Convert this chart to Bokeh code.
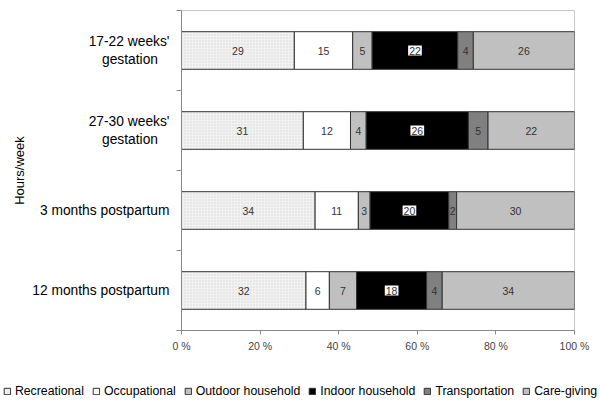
from bokeh.plotting import figure
from bokeh.models import FixedTicker, Legend
from bokeh.layouts import column, row
from bokeh.core.properties import value
from bokeh.embed import file_html
from bokeh.resources import INLINE

NB = "\u00a0"
categories = ["17-22 weeks'\ngestation" + NB * 3, "27-30 weeks'\ngestation" + NB * 3,
              "3 months postpartum", "12 months postpartum"]
series = ["Recreational", "Occupational", "Outdoor household",
          "Indoor household", "Transportation", "Care-giving"]
recreational = [29, 31, 34, 32]
occupational = [15, 12, 11, 6]
outdoor = [5, 4, 3, 7]
indoor = [22, 26, 20, 18]
transport = [4, 5, 2, 4]
caregiving = [26, 22, 30, 34]
x_ticks = [0, 20, 40, 60, 80, 100]
x_labels = ["0 %", "20 %", "40 %", "60 %", "80 %", "100 %"]

values = [recreational, occupational, outdoor, indoor, transport, caregiving]
fills = ["#f2f2f2", "#ffffff", "#c0c0c0", "#000000", "#808080", "#c0c0c0"]

FONT = "Liberation Sans"
n = len(categories)
ypos = [n - i - 0.5 for i in range(n)]
totals = [sum(v[i] for v in values) for i in range(n)]


def style_for(name, fc):
    kw = dict(fill_color=fc, line_color="#333333", line_width=1)
    if name == "Recreational":
        kw.update(hatch_pattern="dot", hatch_color="#d6d6d6", hatch_scale=3, hatch_weight=1)
    return kw


p = figure(width=600, height=370, output_backend="svg", toolbar_location=None,
           title_location=None, x_range=(0, 100), y_range=(0, n),
           min_border_left=181, min_border_right=26, min_border_top=10,
           min_border_bottom=40)
p.outline_line_color = "#c8c8c8"
p.grid.visible = False

left = [0.0] * n
for name, vals, fc in zip(series, values, fills):
    pct = [vals[i] / totals[i] * 100 for i in range(n)]
    right = [left[i] + pct[i] for i in range(n)]
    p.hbar(y=ypos, left=left, right=right, height=0.47, **style_for(name, fc))
    centers = [(left[i] + right[i]) / 2 for i in range(n)]
    labels = [str(v) for v in vals]
    extra = {}
    if name == "Indoor household":
        extra = dict(background_fill_color="white", padding=1)
    p.text(x=centers, y=ypos, text=labels, text_align="center", text_baseline="middle",
           text_font=value(FONT), text_font_size="10.5px", text_color="#333333", **extra)
    left = right

ya = p.yaxis[0]
ya.ticker = FixedTicker(ticks=ypos, minor_ticks=list(range(n + 1)))
ya.major_label_overrides = {float(y): c for y, c in zip(ypos, categories)}
ya.major_tick_out = 0
ya.major_tick_in = 0
ya.major_tick_line_color = None
ya.minor_tick_out = 5
ya.minor_tick_in = 0
ya.minor_tick_line_color = "#888888"
ya.axis_line_color = "#888888"
ya.major_label_text_font = FONT
ya.major_label_text_font_size = "13.8px"
ya.major_label_text_color = "#000000"
ya.major_label_standoff = 7
ya.axis_label = "Hours/week"
ya.axis_label_text_font = FONT
ya.axis_label_text_font_size = "13px"
ya.axis_label_text_font_style = "normal"
ya.axis_label_text_color = "#000000"
ya.axis_label_standoff = 2

xa = p.xaxis[0]
xa.ticker = FixedTicker(ticks=x_ticks)
xa.major_label_overrides = {t: l for t, l in zip(x_ticks, x_labels)}
xa.major_tick_out = 4
xa.major_tick_in = 0
xa.major_tick_line_color = "#888888"
xa.minor_tick_line_color = None
xa.axis_line_color = "#888888"
xa.major_label_text_font = FONT
xa.major_label_text_font_size = "10.5px"
xa.major_label_text_color = "#444444"
xa.major_label_standoff = 5

# legend strip spanning the full width
lg = figure(width=600, height=41, output_backend="svg", toolbar_location=None,
            title_location=None, x_axis_location=None, y_axis_location=None,
            x_range=(0, 1), y_range=(0, 1),
            min_border_left=0, min_border_right=0, min_border_top=0, min_border_bottom=0)
lg.grid.visible = False
lg.outline_line_color = None
items = []
for name, fc in zip(series, fills):
    r = lg.hbar(y=[-5], left=[0], right=[0], height=0.5, **style_for(name, fc))
    items.append((name, [r]))
legend = Legend(items=items, orientation="horizontal", location="center",
                padding=0, spacing=8, label_standoff=4,
                glyph_width=8, glyph_height=8, margin=0,
                label_text_font=FONT, label_text_font_size="12.3px",
                label_text_color="#000000", label_height=14,
                background_fill_alpha=0, border_line_color=None)
lg.add_layout(legend, "center")

layout = column(p, row(lg), spacing=0)
open("out.html", "w").write(file_html(layout, INLINE))
